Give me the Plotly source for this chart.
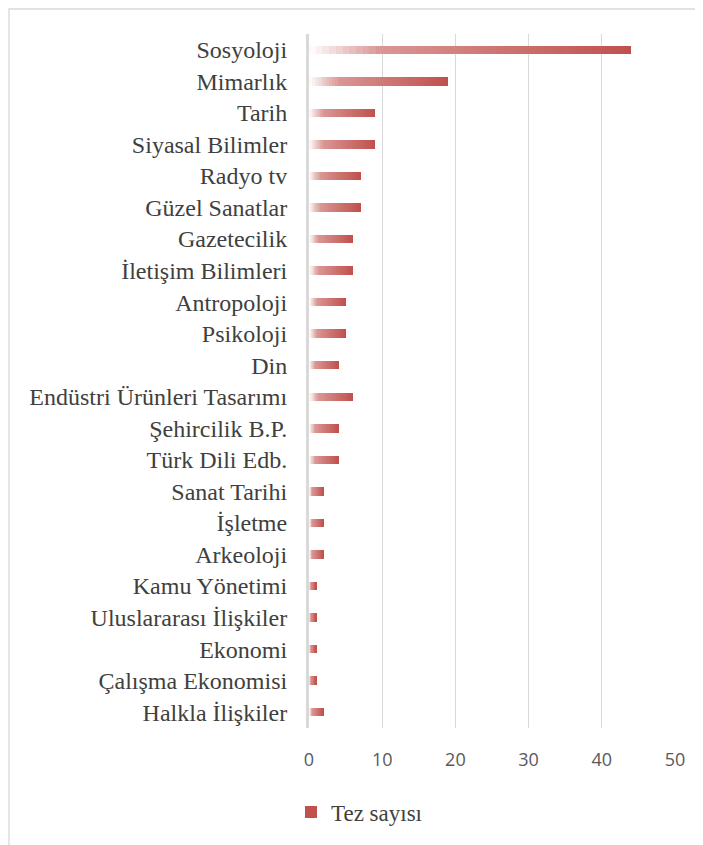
import plotly.graph_objects as go

categories = ["Sosyoloji", "Mimarlık", "Tarih", "Siyasal Bilimler", "Radyo tv",
              "Güzel Sanatlar", "Gazetecilik", "İletişim Bilimleri", "Antropoloji",
              "Psikoloji", "Din", "Endüstri Ürünleri Tasarımı", "Şehircilik B.P.",
              "Türk Dili Edb.", "Sanat Tarihi", "İşletme", "Arkeoloji", "Kamu Yönetimi",
              "Uluslararası İlişkiler", "Ekonomi", "Çalışma Ekonomisi", "Halkla İlişkiler"]
tez_sayisi = [44, 19, 9, 9, 7, 7, 6, 6, 5, 5, 4, 6, 4, 4, 2, 2, 2, 1, 1, 1, 1, 2]
series_name = "Tez sayısı"
x_ticks = [0, 10, 20, 30, 40, 50]

# gradient stops (fraction of bar length -> rgb)
stops = [(0.0, (255, 255, 255)), (0.22, (217, 150, 148)), (1.0, (192, 80, 77))]


def grad(t):
    for (t0, c0), (t1, c1) in zip(stops[:-1], stops[1:]):
        if t <= t1:
            f = (t - t0) / (t1 - t0)
            return "rgb(%d,%d,%d)" % tuple(round(a + (b - a) * f) for a, b in zip(c0, c1))
    return "rgb(%d,%d,%d)" % stops[-1][1]


N = 48
fig = go.Figure()
for i in range(N):
    fig.add_trace(go.Bar(
        y=categories,
        x=[v * (1 - i / N) for v in tez_sayisi],
        base=[v * i / N for v in tez_sayisi],
        orientation="h",
        width=0.27,
        marker=dict(color=grad((i + 0.5) / N), line=dict(width=0)),
        name=series_name,
        showlegend=(i == N - 1),
        hoverinfo="skip",
    ))

# the page body adds an 8px offset; figure sized so that the plot sits where the reference has it
OFF = 8
W, H = 703 - OFF, 845 - OFF
L, R, T, B = 309 - OFF, 28, 34 - OFF, 117
pw, ph = W - L - R, H - T - B


def px_x(p):
    return (p - OFF - L) / pw


def px_y(p):
    return (H - B - (p - OFF)) / ph


fig.add_shape(type="rect", xref="paper", yref="paper",
              x0=px_x(9), x1=px_x(720), y0=px_y(870), y1=px_y(9),
              line=dict(color="#d9d9d9", width=1.3), fillcolor="rgba(0,0,0,0)", layer="below")

fig.update_layout(
    width=W, height=H,
    margin=dict(l=L, r=R, t=T, b=B),
    barmode="overlay",
    bargap=0,
    plot_bgcolor="white",
    paper_bgcolor="white",
    xaxis=dict(range=[0, 50], tickvals=x_ticks, showgrid=True, gridcolor="#d9d9d9",
               gridwidth=1.3, zeroline=False, showline=False, ticks="",
               ticklabelstandoff=19,
               tickfont=dict(family="Open Sans", size=18, color="#595959")),
    yaxis=dict(categoryorder="array", categoryarray=categories, autorange="reversed",
               showgrid=False, zeroline=False, ticks="", ticklabelstandoff=14,
               showline=True, linecolor="#d9d9d9", linewidth=3,
               tickfont=dict(family="Liberation Serif", size=24, color="#404040")),
    legend=dict(x=px_x(291), y=px_y(812), xanchor="left", yanchor="middle",
                font=dict(family="Liberation Serif", size=23, color="#404040"),
                itemwidth=30, bgcolor="rgba(0,0,0,0)"),
    showlegend=True,
)

fig.write_html("out.html")
